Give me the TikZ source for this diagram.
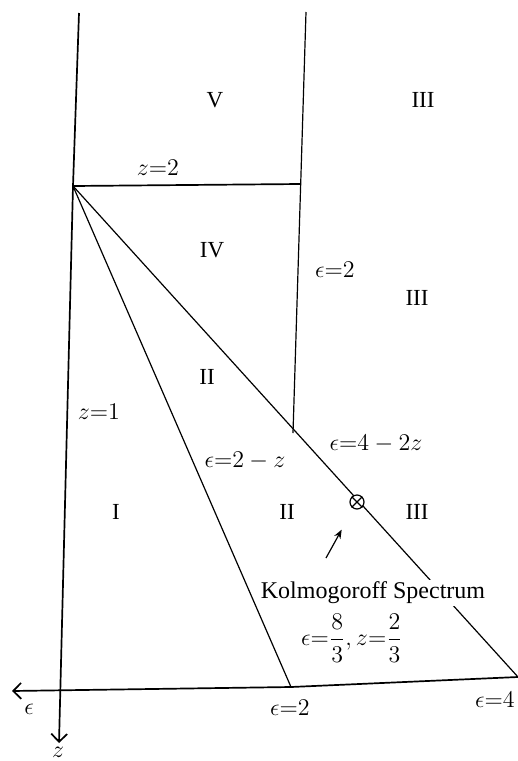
\documentclass[tikz,border=0pt]{standalone}
\usepackage{fontspec}
\setmainfont{Liberation Serif}
\usetikzlibrary{arrows.meta}

\begin{document}
\begin{tikzpicture}[
    x=0.5pt, y=-0.5pt,
    every node/.style={font=\fontsize{11.5}{13}\selectfont},
    boundary/.style={line width=0.6pt},
    thickline/.style={line width=0.85pt},
    axis/.style={line width=0.85pt, -{Straight Barb[length=4pt,width=8pt]}},
    fixpt/.style={circle, draw, line width=0.6pt, minimum size=7pt,
                  inner sep=0pt, fill=white},
    pointer/.style={line width=0.6pt, -{Stealth[length=4.5pt,width=3.5pt]}},
    blanked/.style={fill=white, inner sep=1pt},
  ]
  \useasboundingbox (0,0) rectangle (518,761);

  % ===== Corner points =====
  \coordinate (Ztop)  at (79,13);
  \coordinate (Apex)  at (73,186);
  \coordinate (Zend)  at (59,743);
  \coordinate (Eright) at (518,677);
  \coordinate (Etwo)  at (291,687);
  \coordinate (Eend)  at (12,691);
  \coordinate (Bz)    at (300,184);
  \coordinate (Ctop)  at (306,12);
  \coordinate (Cbot)  at (293,433);

  % ===== Axes =====
  \draw[axis] (Ztop) -- (Apex) -- (Zend);
  \draw[axis] (Eright) -- (Etwo) -- (Eend);
  \node[inner sep=1pt] (zlab) at (58,752) {$z$};
  \node (elab) at (29,709) {$\epsilon$};

  % ===== Region boundaries =====
  \draw[thickline] (Apex) -- (Bz);
  \draw[boundary] (Ctop) -- (Cbot);
  \draw[boundary] (Apex) -- (Etwo);
  \draw[boundary] (Apex) -- (Eright);

  % ===== Kolmogoroff point =====
  \node[fixpt] (K) at (357,502) {};
  \draw[boundary] (K.north west) -- (K.south east) (K.north east) -- (K.south west);
  \node[blanked, font=\fontsize{12}{14}\selectfont] (Ktext) at (373,593) {Kolmogoroff Spectrum};
  \node (Kval) at (352,638) {$\displaystyle\epsilon{=}\frac{8}{3},z{=}\frac{2}{3}$};
  \coordinate (Kfoot) at (326,558);
  \draw[pointer, shorten >=12pt] (Kfoot) -- (K);

  % ===== Region names =====
  \node (R5)  at (215,100) {V};
  \node (R3a) at (423,100) {III};
  \node (R4)  at (212,250) {IV};
  \node (R3b) at (417,298) {III};
  \node (R2a) at (207,377) {II};
  \node (R1)  at (116,512) {I};
  \node (R2b) at (287,512) {II};
  \node (R3c) at (417,512) {III};

  % ===== Line labels =====
  \node (lz2)   at (158,168) {$z{=}2$};
  \node (le2)   at (335,270) {$\epsilon{=}2$};
  \node (lz1)   at (99,412)  {$z{=}1$};
  \node (le42z) at (376,444) {$\epsilon{=}4-2z$};
  \node (le2z)  at (245,461) {$\epsilon{=}2-z$};
  \node (lb2)   at (290,708) {$\epsilon{=}2$};
  \node[anchor=east, inner sep=1pt] (lb4) at (517,700) {$\epsilon{=}4$};
\end{tikzpicture}
\end{document}
